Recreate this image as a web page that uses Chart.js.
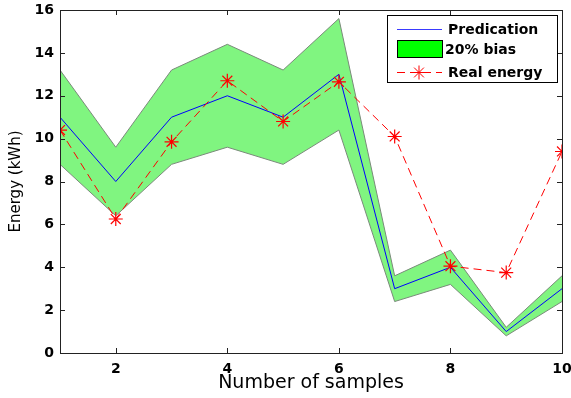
<!DOCTYPE html>
<html>
<head>
<meta charset="utf-8">
<script src="https://cdn.jsdelivr.net/npm/chart.js@4/dist/chart.umd.min.js"></script>
<style>
  html, body { margin: 0; padding: 0; background: #fff; }
  #wrap { width: 571px; height: 398px; position: relative; }
</style>
</head>
<body>
<div id="wrap"><canvas id="c"></canvas></div>
<script>
const samples = [1, 2, 3, 4, 5, 6, 7, 8, 9, 10];
const prediction = [11, 8, 11, 12, 11, 13, 3, 4, 1, 3];
const biasUpper = [13.2, 9.6, 13.2, 14.4, 13.2, 15.6, 3.6, 4.8, 1.2, 3.6];
const biasLower = [8.8, 6.4, 8.8, 9.6, 8.8, 10.4, 2.4, 3.2, 0.8, 2.4];
const realEnergy = [10.4, 6.25, 9.85, 12.7, 10.8, 12.65, 10.1, 4.05, 3.75, 9.4];
const xTicks = [2, 4, 6, 8, 10];

const pts = (ys) => samples.map((x, i) => ({ x, y: ys[i] }));

// matlab-style frame, inward ticks on all four sides, and the legend box
const framePlugin = {
  id: "frame",
  afterDraw(chart) {
    const { ctx, chartArea: a, scales } = chart;
    ctx.save();
    ctx.strokeStyle = "#222";
    ctx.lineWidth = 1;
    ctx.strokeRect(a.left + 0.5, a.top + 0.5, a.right - a.left, a.bottom - a.top);
    ctx.beginPath();
    scales.x.ticks.forEach(t => {
      const px = Math.round(scales.x.getPixelForValue(t.value)) + 0.5;
      ctx.moveTo(px, a.bottom); ctx.lineTo(px, a.bottom - 5);
      ctx.moveTo(px, a.top); ctx.lineTo(px, a.top + 5);
    });
    scales.y.ticks.forEach(t => {
      const py = Math.round(scales.y.getPixelForValue(t.value)) + 0.5;
      ctx.moveTo(a.left, py); ctx.lineTo(a.left + 5, py);
      ctx.moveTo(a.right, py); ctx.lineTo(a.right - 5, py);
    });
    ctx.stroke();

    // legend
    const lx = 387, ly = 15, lw = 170, lh = 67;
    ctx.fillStyle = "#fff";
    ctx.fillRect(lx, ly, lw, lh);
    ctx.strokeStyle = "#000";
    ctx.lineWidth = 1;
    ctx.strokeRect(lx + 0.5, ly + 0.5, lw, lh);
    ctx.font = "bold 14px 'DejaVu Sans', sans-serif";
    ctx.textBaseline = "middle";
    ctx.fillStyle = "#000";
    // row 1
    ctx.strokeStyle = "#3a3aff";
    ctx.beginPath(); ctx.moveTo(397, 29.5); ctx.lineTo(442, 29.5); ctx.stroke();
    ctx.fillText("Predication", 448, 30);
    // row 2
    ctx.fillStyle = "#00ff00";
    ctx.fillRect(397, 40, 45, 17);
    ctx.strokeStyle = "#000";
    ctx.strokeRect(397.5, 40.5, 45, 17);
    ctx.fillStyle = "#000";
    ctx.fillText("20% bias", 445, 50);
    // row 3
    ctx.strokeStyle = "#ff0000";
    ctx.setLineDash([8, 5]);
    ctx.beginPath(); ctx.moveTo(397, 72.5); ctx.lineTo(442, 72.5); ctx.stroke();
    ctx.setLineDash([]);
    const sx = 419, sy = 72.5, r = 7;
    ctx.beginPath();
    ctx.moveTo(sx - r, sy); ctx.lineTo(sx + r, sy);
    ctx.moveTo(sx, sy - r); ctx.lineTo(sx, sy + r);
    const d = r * 0.7;
    ctx.moveTo(sx - d, sy - d); ctx.lineTo(sx + d, sy + d);
    ctx.moveTo(sx - d, sy + d); ctx.lineTo(sx + d, sy - d);
    ctx.stroke();
    ctx.fillStyle = "#000";
    ctx.fillText("Real energy", 448, 73);
    ctx.restore();
  }
};

const tickFont = { family: "'DejaVu Sans', sans-serif", size: 14, weight: "bold" };

new Chart(document.getElementById("c"), {
  type: "line",
  data: {
    datasets: [
      {
        label: "upper",
        data: pts(biasUpper),
        borderColor: "#7a8a7a",
        borderWidth: 1,
        backgroundColor: "#80f580",
        pointRadius: 0,
        fill: "+1",
        tension: 0,
        order: 4
      },
      {
        label: "lower",
        data: pts(biasLower),
        borderColor: "#7a8a7a",
        borderWidth: 1,
        pointRadius: 0,
        fill: false,
        tension: 0,
        order: 3
      },
      {
        label: "Predication",
        data: pts(prediction),
        borderColor: "#0000ff",
        borderWidth: 1,
        pointRadius: 0,
        fill: false,
        tension: 0,
        order: 2
      },
      {
        label: "Real energy",
        data: pts(realEnergy),
        borderColor: "#ff0000",
        borderWidth: 1,
        borderDash: [8, 5],
        pointStyle: "star",
        pointRadius: 7,
        pointBorderColor: "#ff0000",
        pointBorderWidth: 1.2,
        pointBackgroundColor: "#ff0000",
        fill: false,
        tension: 0,
        order: 1
      }
    ]
  },
  options: {
    responsive: true,
    maintainAspectRatio: false,
    animation: false,
    layout: { padding: { top: 10, right: 9, left: 0, bottom: 0 } },
    plugins: { legend: { display: false }, tooltip: { enabled: false } },
    scales: {
      x: {
        type: "linear",
        min: 1,
        max: 10,
        afterBuildTicks: (s) => { s.ticks = xTicks.map(v => ({ value: v })); },
        afterFit: (s) => { s.height = 45; s.paddingRight = 0; s.paddingLeft = 0; },
        grid: { display: false, drawTicks: false },
        border: { display: false },
        ticks: { color: "#000", font: tickFont, padding: 8, maxRotation: 0 },
        title: { display: true, text: "Number of samples", color: "#000",
                 font: { family: "'DejaVu Sans', sans-serif", size: 19 }, padding: { top: 0 } }
      },
      y: {
        min: 0,
        max: 16,
        afterFit: (s) => { s.width = 60; s.paddingTop = 0; s.paddingBottom = 0; },
        grid: { display: false, drawTicks: false },
        border: { display: false },
        ticks: { stepSize: 2, color: "#000", font: tickFont, padding: 6 },
        title: { display: true, text: "Energy (kWh)", color: "#000",
                 font: { family: "'DejaVu Sans', sans-serif", size: 15 }, padding: { top: 7, bottom: 0 } }
      }
    }
  },
  plugins: [framePlugin]
});
</script>
</body>
</html>
